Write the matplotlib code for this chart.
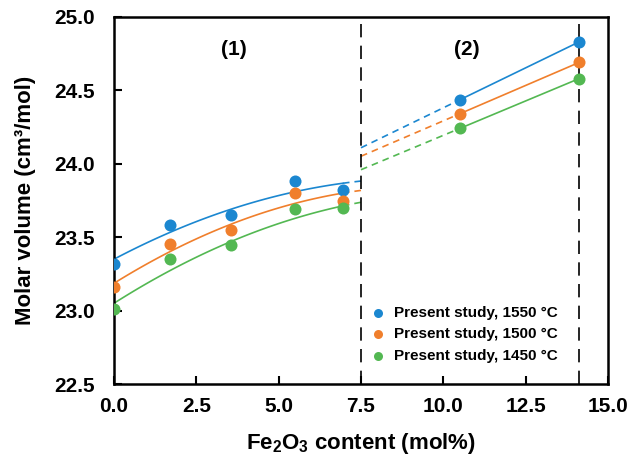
import numpy as np
import matplotlib
matplotlib.use('Agg')
import matplotlib.pyplot as plt

plt.rcParams['font.family'] = ['Liberation Sans', 'DejaVu Sans']
plt.rcParams['font.weight'] = 'bold'
plt.rcParams['mathtext.fontset'] = 'custom'
plt.rcParams['mathtext.rm'] = 'Liberation Sans:bold'
plt.rcParams['mathtext.bf'] = 'Liberation Sans:bold'

# region (1) data
x1 = [0.0, 1.7, 3.55, 5.5, 6.95]
v1550_1 = [23.32, 23.58, 23.65, 23.88, 23.82]
v1500_1 = [23.16, 23.45, 23.55, 23.80, 23.745]
v1450_1 = [23.01, 23.35, 23.445, 23.69, 23.70]

# trendline coefficients for region (1): a + b*x + c*x^2
fit1550 = [23.35, 0.1181, -0.00629]
fit1500 = [23.186, 0.1392, -0.00732]
fit1450 = [23.05, 0.1422, -0.00674]

# region (2) data
x2 = [10.5, 14.13]
v1550_2 = [24.435, 24.83]
v1500_2 = [24.34, 24.69]
v1450_2 = [24.24, 24.58]

labels = ['Present study, 1550 °C', 'Present study, 1500 °C', 'Present study, 1450 °C']
colors = ['#1b87d0', '#f07f2c', '#53b852']
boundary = 7.5
x_end = 14.13

fig = plt.figure(figsize=(6.3, 4.55), dpi=100)
ax = fig.add_axes([0.181, 0.156, 0.784, 0.807])

series1 = [v1550_1, v1500_1, v1450_1]
series2 = [v1550_2, v1500_2, v1450_2]
fits = [fit1550, fit1500, fit1450]

for s1, s2, f, c, lab in zip(series1, series2, fits, colors, labels):
    a, b, k = f
    xs = np.linspace(0, x1[-1], 100)
    ax.plot(xs, a + b * xs + k * xs ** 2, color=c, lw=1.2)
    xd = np.linspace(x1[-1], boundary, 10)
    ax.plot(xd, a + b * xd + k * xd ** 2, color=c, lw=1.2, ls=(0, (4, 3)))
    # linear in region 2, extended back to the boundary
    q = np.polyfit(x2, s2, 1)
    ax.plot(x2, s2, color=c, lw=1.2)
    xe = np.array([boundary, x2[0]])
    ax.plot(xe, np.polyval(q, xe), color=c, lw=1.2, ls=(0, (4, 3)))
    ax.scatter(x1 + x2, s1 + s2, s=75, color=c, zorder=5, label=lab, linewidths=0)

ax.axvline(boundary, color='black', lw=1.2, ls=(0, (8, 5)))
ax.axvline(x_end, color='black', lw=1.2, ls=(0, (8, 5)))

ax.text(3.65, 24.78, '(1)', fontsize=15, fontweight='bold', ha='center', va='center')
ax.text(10.72, 24.78, '(2)', fontsize=15, fontweight='bold', ha='center', va='center')

ax.set_xlim(0, 15)
ax.set_ylim(22.5, 25.0)
xt = np.arange(0, 15.1, 2.5)
yt = np.arange(22.5, 25.01, 0.5)
ax.set_xticks(xt)
ax.set_yticks(yt)
ax.set_xticklabels(['%.1f' % v for v in xt])
ax.set_yticklabels(['%.1f' % v for v in yt])
ax.tick_params(direction='in', length=6, width=1.5, labelsize=15)
ax.tick_params(axis='y', pad=14)
ax.tick_params(axis='x', pad=9)
for sp in ax.spines.values():
    sp.set_linewidth(1.8)

ax.set_xlabel('Fe$_2$O$_3$ content (mol%)', fontsize=16, fontweight='bold', labelpad=11)
ax.set_ylabel('Molar volume (cm³/mol)', fontsize=16, fontweight='bold', labelpad=13)

ax.legend(loc='lower right', bbox_to_anchor=(0.91, 0.041), frameon=False, fontsize=11,
          handletextpad=0.0, markerscale=0.75, labelspacing=0.5, borderaxespad=0)

fig.savefig('out.png', dpi=100)
